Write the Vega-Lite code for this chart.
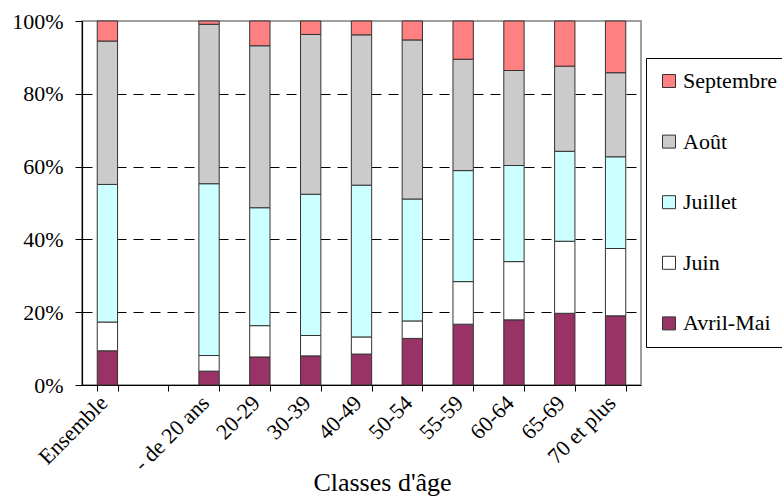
{
  "$schema": "https://vega.github.io/schema/vega-lite/v6.json",
  "autosize": "none",
  "padding": {"left": 82, "top": 21, "right": 141, "bottom": 112},
  "width": 559,
  "height": 364,
  "background": "white",
  "config": {
    "font": "Liberation Serif",
    "style": {
      "guide-label": {"font": "Liberation Serif", "fill": "black"},
      "guide-title": {"font": "Liberation Serif", "fill": "black"}
    },
    "axis": {"labelFont": "Liberation Serif", "titleFont": "Liberation Serif"},
    "legend": {"labelFont": "Liberation Serif"},
    "view": {"stroke": "#808080", "strokeWidth": 1.5}
  },
  "data": {
    "values": [
      {"c": "Ensemble", "m": "Avril-Mai", "k": 1, "v": 9.4},
      {"c": "Ensemble", "m": "Juin", "k": 2, "v": 7.9},
      {"c": "Ensemble", "m": "Juillet", "k": 3, "v": 37.8},
      {"c": "Ensemble", "m": "Août", "k": 4, "v": 39.4},
      {"c": "Ensemble", "m": "Septembre", "k": 5, "v": 5.5},
      {"c": "- de 20 ans", "m": "Avril-Mai", "k": 1, "v": 3.8},
      {"c": "- de 20 ans", "m": "Juin", "k": 2, "v": 4.3},
      {"c": "- de 20 ans", "m": "Juillet", "k": 3, "v": 47.2},
      {"c": "- de 20 ans", "m": "Août", "k": 4, "v": 43.8},
      {"c": "- de 20 ans", "m": "Septembre", "k": 5, "v": 0.9},
      {"c": "20-29", "m": "Avril-Mai", "k": 1, "v": 7.7},
      {"c": "20-29", "m": "Juin", "k": 2, "v": 8.6},
      {"c": "20-29", "m": "Juillet", "k": 3, "v": 32.4},
      {"c": "20-29", "m": "Août", "k": 4, "v": 44.5},
      {"c": "20-29", "m": "Septembre", "k": 5, "v": 6.8},
      {"c": "30-39", "m": "Avril-Mai", "k": 1, "v": 8.0},
      {"c": "30-39", "m": "Juin", "k": 2, "v": 5.6},
      {"c": "30-39", "m": "Juillet", "k": 3, "v": 38.8},
      {"c": "30-39", "m": "Août", "k": 4, "v": 43.9},
      {"c": "30-39", "m": "Septembre", "k": 5, "v": 3.7},
      {"c": "40-49", "m": "Avril-Mai", "k": 1, "v": 8.5},
      {"c": "40-49", "m": "Juin", "k": 2, "v": 4.7},
      {"c": "40-49", "m": "Juillet", "k": 3, "v": 41.7},
      {"c": "40-49", "m": "Août", "k": 4, "v": 41.3},
      {"c": "40-49", "m": "Septembre", "k": 5, "v": 3.8},
      {"c": "50-54", "m": "Avril-Mai", "k": 1, "v": 12.8},
      {"c": "50-54", "m": "Juin", "k": 2, "v": 4.8},
      {"c": "50-54", "m": "Juillet", "k": 3, "v": 33.5},
      {"c": "50-54", "m": "Août", "k": 4, "v": 43.7},
      {"c": "50-54", "m": "Septembre", "k": 5, "v": 5.2},
      {"c": "55-59", "m": "Avril-Mai", "k": 1, "v": 16.7},
      {"c": "55-59", "m": "Juin", "k": 2, "v": 11.7},
      {"c": "55-59", "m": "Juillet", "k": 3, "v": 30.5},
      {"c": "55-59", "m": "Août", "k": 4, "v": 30.6},
      {"c": "55-59", "m": "Septembre", "k": 5, "v": 10.5},
      {"c": "60-64", "m": "Avril-Mai", "k": 1, "v": 17.9},
      {"c": "60-64", "m": "Juin", "k": 2, "v": 16.0},
      {"c": "60-64", "m": "Juillet", "k": 3, "v": 26.4},
      {"c": "60-64", "m": "Août", "k": 4, "v": 26.1},
      {"c": "60-64", "m": "Septembre", "k": 5, "v": 13.6},
      {"c": "65-69", "m": "Avril-Mai", "k": 1, "v": 19.7},
      {"c": "65-69", "m": "Juin", "k": 2, "v": 19.8},
      {"c": "65-69", "m": "Juillet", "k": 3, "v": 24.7},
      {"c": "65-69", "m": "Août", "k": 4, "v": 23.4},
      {"c": "65-69", "m": "Septembre", "k": 5, "v": 12.4},
      {"c": "70 et plus", "m": "Avril-Mai", "k": 1, "v": 19.0},
      {"c": "70 et plus", "m": "Juin", "k": 2, "v": 18.5},
      {"c": "70 et plus", "m": "Juillet", "k": 3, "v": 25.2},
      {"c": "70 et plus", "m": "Août", "k": 4, "v": 23.1},
      {"c": "70 et plus", "m": "Septembre", "k": 5, "v": 14.2}
    ]
  },
  "mark": {"type": "bar", "stroke": "#333333", "strokeWidth": 1},
  "encoding": {
    "x": {
      "field": "c",
      "type": "nominal",
      "scale": {
        "domain": ["Ensemble", " ", "- de 20 ans", "20-29", "30-39", "40-49", "50-54", "55-59", "60-64", "65-69", "70 et plus"],
        "paddingInner": 0.6,
        "paddingOuter": 0.3
      },
      "axis": {
        "title": "Classes d'âge",
        "titleFont": "Liberation Serif",
        "titleFontSize": 26,
        "titleFontWeight": "normal",
        "titleColor": "black",
        "titleX": 300,
        "titleY": 105,
        "titleBaseline": "alphabetic",
        "titleAnchor": "middle",
        "titleAlign": "center",
        "labelFont": "Liberation Serif",
        "labelAngle": -45,
        "labelAlign": "right",
        "labelBaseline": "middle",
        "labelFontSize": 22,
        "labelColor": "black",
        "labelPadding": 8,
        "labelOffset": -4,
        "tickBand": "extent",
        "tickSize": 6,
        "tickColor": "black",
        "domainColor": "black",
        "domainWidth": 1.2
      }
    },
    "y": {
      "field": "v",
      "type": "quantitative",
      "stack": "normalize",
      "scale": {"domain": [0, 1], "nice": false},
      "axis": {
        "title": null,
        "format": ".0%",
        "values": [0, 0.2, 0.4, 0.6, 0.8, 1],
        "labelFont": "Liberation Serif",
        "labelFontSize": 22,
        "labelColor": "black",
        "labelPadding": 12,
        "tickSize": 7,
        "tickColor": "black",
        "domainColor": "black",
        "domainWidth": 1.2,
        "grid": true,
        "gridColor": "black",
        "gridDash": [10, 7],
        "gridWidth": 1,
        "gridOpacity": {"condition": {"test": "datum.value == 0 || datum.value == 1", "value": 0}, "value": 1}
      }
    },
    "color": {
      "field": "m",
      "type": "nominal",
      "scale": {
        "domain": ["Septembre", "Août", "Juillet", "Juin", "Avril-Mai"],
        "range": ["#FF8080", "#CBCBCB", "#CCFFFF", "#FFFFFF", "#993366"]
      },
      "legend": {
        "title": null,
        "orient": "none",
        "legendX": 564,
        "legendY": 37,
        "padding": 12,
        "strokeColor": "black",
        "fillColor": "white",
        "symbolType": "square",
        "symbolSize": 169,
        "symbolStrokeColor": "#333333",
        "symbolStrokeWidth": 1,
        "labelFont": "Liberation Serif",
        "labelFontSize": 22,
        "labelColor": "black",
        "labelOffset": 3,
        "rowPadding": 38.6
      }
    },
    "order": {"field": "k", "type": "quantitative", "sort": "ascending"}
  }
}
